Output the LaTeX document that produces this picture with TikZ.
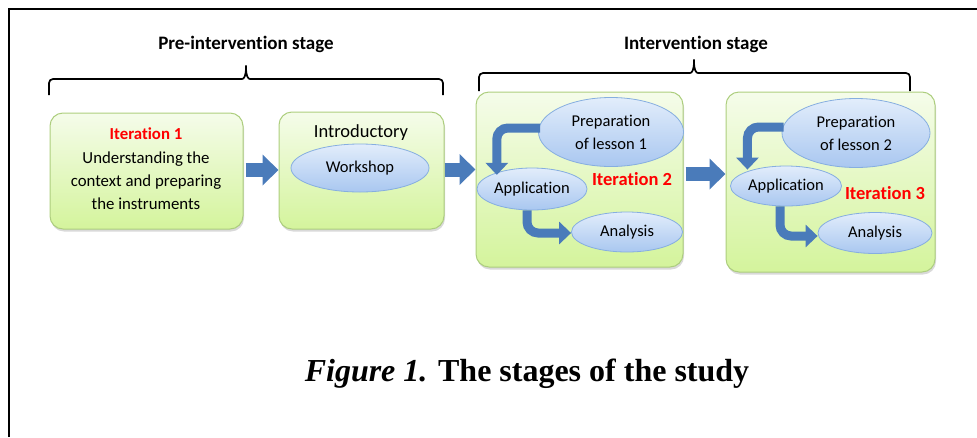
\documentclass[tikz,border=0pt]{standalone}
\usepackage{fontspec}
\setmainfont{Carlito}[Ligatures=NoCommon]
\newfontfamily\capfont{Liberation Serif}
\usetikzlibrary{shapes.geometric,arrows.meta,shadows}
\definecolor{boxtop}{HTML}{F5FCEA}
\definecolor{boxbot}{HTML}{D4F49C}
\definecolor{boxline}{HTML}{ADCE7E}
\definecolor{elltop}{HTML}{E2EDFB}
\definecolor{ellbot}{HTML}{A9C7F0}
\definecolor{ellline}{HTML}{86AEE0}
\definecolor{arrblue}{HTML}{4A7BBA}
\definecolor{itred}{HTML}{FF0000}
\tikzset{
  stagebox/.style={draw=boxline, line width=1pt, rounded corners=13pt, top color=boxtop, bottom color=boxbot, inner sep=0pt,
    drop shadow={shadow xshift=1pt, shadow yshift=-2.5pt, opacity=0.3, fill=black!50}},
  ellnode/.style={ellipse, draw=ellline, line width=0.8pt, top color=elltop, bottom color=ellbot, inner sep=0pt, align=center,
    font=\fontsize{16.5}{23}\selectfont},
  blockarrow/.style={color=arrblue, line width=14pt, -{Triangle[length=16pt,width=30pt]}},
  bentarrow/.style={color=arrblue, line width=9pt, rounded corners=11pt, -{Triangle[length=12pt,width=22pt]}},
  bracestyle/.style={line width=1.7pt, black, rounded corners=4pt},
  headtext/.style={font=\fontsize{19}{22}\selectfont\bfseries},
  itertext/.style={font=\fontsize{18.5}{22}\selectfont\bfseries, text=itred},
  plain/.style={font=\fontsize{16.8}{23.3}\selectfont, align=center, inner sep=0pt}
}
\begin{document}
\begin{tikzpicture}[x=1pt,y=-1pt]
\useasboundingbox (0,0) rectangle (977,437);
% frame
\draw[line width=2pt] (9,437) -- (9,9) -- (977,9);

% headings and braces
\node[headtext] (h1) at (246,44) {Pre-intervention stage};
\node[headtext] (h2) at (696,44) {Intervention stage};
\draw[bracestyle] (49,95) -- (49,79) -- (238,79) .. controls (244,79) and (246,76) .. (246,63)
   .. controls (246,76) and (248,79) .. (254,79) -- (443,79) -- (443,95);
\draw[bracestyle] (479,91) -- (479,73) -- (686,73) .. controls (692,73) and (694,70) .. (694,57)
   .. controls (694,70) and (696,73) .. (702,73) -- (910,73) -- (910,91);

% boxes
\node[stagebox, minimum width=193pt, minimum height=116pt] (b1) at (146.5,171) {};
\node[stagebox, minimum width=165pt, minimum height=117pt] (b2) at (361.5,170.5) {};
\node[stagebox, minimum width=207pt, minimum height=175pt] (b3) at (579.5,179.5) {};
\node[stagebox, minimum width=209pt, minimum height=180pt] (b4) at (830.5,182) {};

% box 1 text
\node[plain] (t1) at (146,169) {{\bfseries\color{itred}Iteration 1}\\Understanding the\\context and preparing\\the instruments};
% box 2
\node[font=\fontsize{18.5}{22}\selectfont] (intro) at (361,133) {Introductory};
\node[ellnode, minimum width=138pt, minimum height=48pt] (ws) at (360,168) {Workshop};

% box 3
\node[ellnode, minimum width=145pt, minimum height=69pt] (prep1) at (611,132) {Preparation\\of lesson 1};
\node[ellnode, minimum width=110pt, minimum height=42pt] (app1) at (532,189) {Application};
\node[ellnode, minimum width=111pt, minimum height=40pt] (ana1) at (627,232) {Analysis};
\node[itertext] (it2) at (632,179) {Iteration 2};

% box 4
\node[ellnode, minimum width=148pt, minimum height=69pt] (prep2) at (856,133) {Preparation\\of lesson 2};
\node[ellnode, minimum width=111pt, minimum height=40pt] (app2) at (786,186) {Application};
\node[ellnode, minimum width=114pt, minimum height=41pt] (ana2) at (875,233) {Analysis};
\node[itertext] (it3) at (885,193) {Iteration 3};

% block arrows between boxes
\draw[blockarrow] ([xshift=2pt,yshift=1pt]b1.east) -- ([yshift=1pt]b1.east -| b2.west);
\draw[blockarrow] ([xshift=0pt,yshift=1pt]b2.east) -- ([yshift=1pt]b2.east -| b3.west);
\draw[blockarrow] ([xshift=2pt,yshift=5.5pt]b3.east) -- ([yshift=5.5pt]b3.east -| b4.west);

% bent arrows
\draw[bentarrow] ([xshift=2pt,yshift=4pt]prep1.west) -| ([xshift=4pt,yshift=-1pt]app1.north west);
\draw[bentarrow] ([xshift=-5pt]app1.south) |- ([yshift=-1pt]ana1.west);
\draw[bentarrow] ([xshift=2pt,yshift=6pt]prep2.west) -| ([xshift=1pt,yshift=2pt]app2.north west);
\draw[bentarrow] ([xshift=-6pt]app2.south) |- ([yshift=-3pt]ana2.west);

% caption
\node[font=\capfont\fontsize{32}{36}\selectfont] (cap) at (527,374) {\textbf{\textit{Figure 1.}} \textbf{The stages of the study}};
\end{tikzpicture}
\end{document}
